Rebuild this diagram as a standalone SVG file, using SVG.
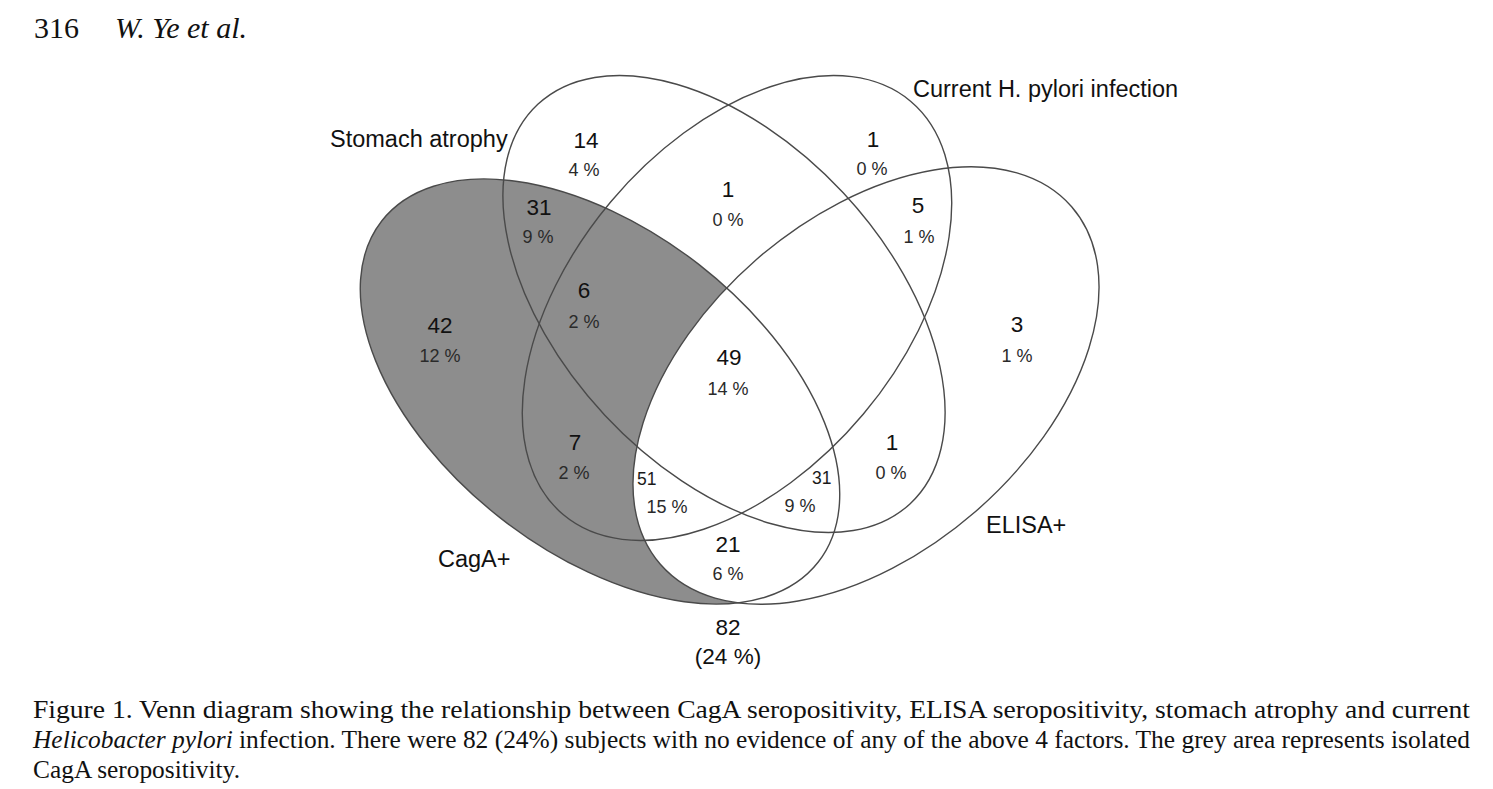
<svg xmlns="http://www.w3.org/2000/svg" width="1493" height="789" viewBox="0 0 1493 789">
<style>
.bg{fill:#ffffff}
.outline{fill:none;stroke:#4a4a4a;stroke-width:1.4}
.grey{fill:#8d8d8d;stroke:none}
.white{fill:#ffffff;stroke:none}
.lab{font-family:"Liberation Sans",Arial,sans-serif;font-size:23.5px;fill:#111111}
.num{font-family:"Liberation Sans",Arial,sans-serif;font-size:22.5px;fill:#111111;text-anchor:middle}
.pct{font-family:"Liberation Sans",Arial,sans-serif;font-size:18px;fill:#2a2a2a;text-anchor:middle}
.sm{font-family:"Liberation Sans",Arial,sans-serif;font-size:17.5px;fill:#1a1a1a}
.serif{font-family:"Liberation Serif","Times New Roman",serif;fill:#111111}
</style>
<rect class="bg" x="0" y="0" width="1493" height="789"/>
<g id="header">
<text class="serif" x="34" y="38" font-size="30">316</text>
<text class="serif" x="115" y="38" font-size="30" font-style="italic">W. Ye et al.</text>
</g>
<g id="fills">
<ellipse class="grey" cx="600" cy="391.5" rx="277" ry="161" transform="rotate(38 600 391.5)"/>
<ellipse class="white" cx="866" cy="385.5" rx="272.5" ry="167" transform="rotate(-41 866 385.5)"/>
</g>
<g id="connectors"></g>
<g id="set-cagA">
<ellipse class="outline" cx="600" cy="391.5" rx="277" ry="161" transform="rotate(38 600 391.5)"/>
<text class="lab" x="438" y="567">CagA+</text>
</g>
<g id="set-elisa">
<ellipse class="outline" cx="866" cy="385.5" rx="272.5" ry="167" transform="rotate(-41 866 385.5)"/>
<text class="lab" x="986" y="533">ELISA+</text>
</g>
<g id="set-atrophy">
<ellipse class="outline" cx="724" cy="304" rx="273" ry="163" transform="rotate(47 724 304)"/>
<text class="lab" x="330" y="147">Stomach atrophy</text>
</g>
<g id="set-hpylori">
<ellipse class="outline" cx="737" cy="308" rx="270" ry="165" transform="rotate(-50 737 308)"/>
<text class="lab" x="913" y="97">Current H. pylori infection</text>
</g>
<g id="regions">
<text class="num" x="586" y="148">14</text><text class="pct" x="584" y="176">4 %</text>
<text class="num" x="728" y="197">1</text><text class="pct" x="728" y="226">0 %</text>
<text class="num" x="873" y="147">1</text><text class="pct" x="872" y="175">0 %</text>
<text class="num" x="539" y="215">31</text><text class="pct" x="538" y="243">9 %</text>
<text class="num" x="918" y="213">5</text><text class="pct" x="919" y="243">1 %</text>
<text class="num" x="584" y="298">6</text><text class="pct" x="584" y="328">2 %</text>
<text class="num" x="440" y="333">42</text><text class="pct" x="440" y="362">12 %</text>
<text class="num" x="1017" y="332">3</text><text class="pct" x="1017" y="362">1 %</text>
<text class="num" x="729" y="365">49</text><text class="pct" x="728" y="395">14 %</text>
<text class="num" x="575" y="450">7</text><text class="pct" x="574" y="479">2 %</text>
<text class="num" x="892" y="450">1</text><text class="pct" x="891" y="479">0 %</text>
<text class="sm" x="637" y="485">51</text><text class="pct" x="667" y="513">15 %</text>
<text class="sm" x="812" y="484">31</text><text class="pct" x="800" y="512">9 %</text>
<text class="num" x="728" y="552">21</text><text class="pct" x="728" y="580">6 %</text>
<text class="num" x="728" y="635">82</text><text class="num" x="728" y="664">(24 %)</text>
</g>
<g id="caption" class="serif" font-size="25">
<text x="33" y="718" textLength="1437" lengthAdjust="spacingAndGlyphs">Figure 1. Venn diagram showing the relationship between CagA seropositivity, ELISA seropositivity, stomach atrophy and current</text>
<text x="33" y="748" textLength="1437" lengthAdjust="spacingAndGlyphs"><tspan font-style="italic">Helicobacter pylori</tspan> infection. There were 82 (24%) subjects with no evidence of any of the above 4 factors. The grey area represents isolated</text>
<text x="33" y="778" textLength="207" lengthAdjust="spacingAndGlyphs">CagA seropositivity.</text>
</g>
</svg>
